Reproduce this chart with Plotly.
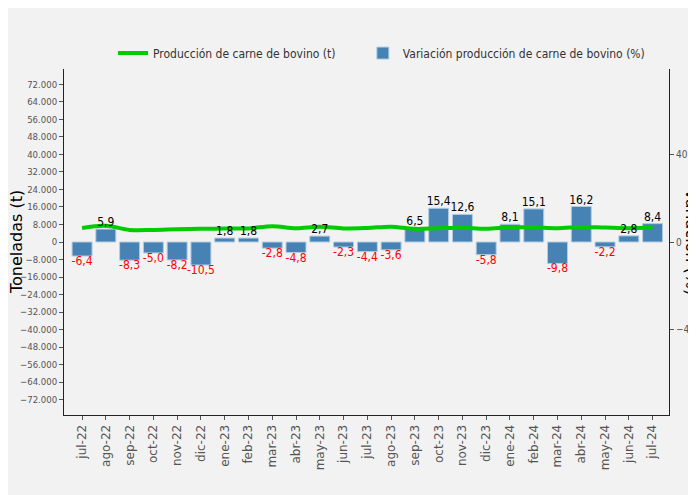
import plotly.graph_objects as go

months = ["jul-22", "ago-22", "sep-22", "oct-22", "nov-22", "dic-22", "ene-23", "feb-23",
          "mar-23", "abr-23", "may-23", "jun-23", "jul-23", "ago-23", "sep-23", "oct-23",
          "nov-23", "dic-23", "ene-24", "feb-24", "mar-24", "abr-24", "may-24", "jun-24", "jul-24"]

variacion_pct = [-6.4, 5.9, -8.3, -5.0, -8.2, -10.5, 1.8, 1.8, -2.8, -4.8, 2.7, -2.3, -4.4,
                 -3.6, 6.5, 15.4, 12.6, -5.8, 8.1, 15.1, -9.8, 16.2, -2.2, 2.8, 8.4]

produccion_t = [6400, 7400, 5500, 5500, 5800, 6000, 6200, 6200, 7200, 6300, 7000, 6200, 6400,
                7000, 6000, 6300, 6500, 6000, 6700, 6700, 6300, 6900, 6600, 6300, 6600]

left_ticks = list(range(-72000, 72001, 8000))
right_ticks = [-40, 0, 40]

COND = "DejaVu Sans Condensed, DejaVu Sans, sans-serif"
WIDE = "DejaVu Sans, sans-serif"

labels = [("%.1f" % v).replace(".", ",") for v in variacion_pct]
label_colors = ["#000000" if v >= 0 else "#ff0000" for v in variacion_pct]
label_pos = ["top center" if v >= 0 else "bottom center" for v in variacion_pct]

fig = go.Figure()

fig.add_trace(go.Bar(
    x=months, y=variacion_pct, name="Variación producción de carne de bovino (%)",
    marker=dict(color="#4682b4", line=dict(color="#b4cce2", width=1)),
    width=0.84, yaxis="y", legend="legend2", hoverinfo="skip",
))

fig.add_trace(go.Scatter(
    x=months, y=produccion_t, name="Producción de carne de bovino (t)",
    mode="lines", line=dict(color="#00cc00", width=4, shape="spline"),
    yaxis="y2", legend="legend",
))

fig.add_trace(go.Scatter(
    x=months, y=variacion_pct, mode="text", text=labels, textposition=label_pos,
    textfont=dict(family=COND, size=12, color=label_colors),
    yaxis="y3", showlegend=False, cliponaxis=False, hoverinfo="skip",
))

axis_common = dict(ticks="outside", ticklen=4, tickcolor="#555555", showline=True,
                   linecolor="#222222", linewidth=1, showgrid=False, zeroline=False,
                   automargin=False)

fig.update_layout(
    width=696, height=495,
    margin=dict(l=56, r=35, t=61, b=88),
    paper_bgcolor="#f2f2f2",
    plot_bgcolor="#f2f2f2",
    separators=",.",
    showlegend=True,
    legend=dict(orientation="h", x=0.081, xanchor="left", y=1.046, yanchor="middle",
                font=dict(family=COND, size=12, color="#333333"),
                bgcolor="rgba(0,0,0,0)"),
    legend2=dict(orientation="h", x=0.494, xanchor="left", y=1.046, yanchor="middle",
                 font=dict(family=COND, size=12, color="#333333"),
                 bgcolor="rgba(0,0,0,0)"),
    xaxis=dict(type="category", range=[-0.76, 24.69], tickangle=-90,
               tickfont=dict(family=WIDE, size=12, color="#555555"), **axis_common),
    yaxis=dict(side="right", range=[-79, 79], tickvals=right_ticks,
               tickfont=dict(family=COND, size=10, color="#555555"), **axis_common),
    yaxis2=dict(side="left", overlaying="y", range=[-79000, 79000], tickvals=left_ticks,
                tickformat=",d",
                tickfont=dict(family=COND, size=9.5, color="#555555"),
                **axis_common),
    yaxis3=dict(overlaying="y", range=[-79, 79], visible=False),
    annotations=[
        dict(text="Toneladas (t)", xref="paper", yref="paper", x=(8 - 56) / 605, y=0.5,
             xanchor="center", yanchor="middle", textangle=-90, showarrow=False,
             font=dict(family=WIDE, size=16, color="#000000")),
        dict(text="Variación (%)", xref="paper", yref="paper", x=(684 - 56) / 605, y=0.5,
             xanchor="center", yanchor="middle", textangle=90, showarrow=False,
             font=dict(family=WIDE, size=16, color="#000000")),
    ],
)

fig.write_html("out.html")
